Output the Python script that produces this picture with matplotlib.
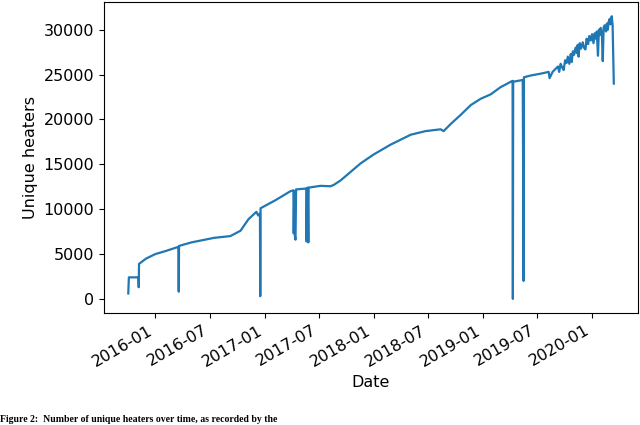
import pandas as pd
import matplotlib
matplotlib.use("Agg")
from matplotlib import pyplot as plt
import matplotlib.dates as mdates

plt.rcParams["font.size"] = 11.5

# Puntos (fecha, heaters unicos)
fechas = [
    "2015-10-02", "2015-10-04", "2015-11-05", "2015-11-06", "2015-11-07",
    "2015-12-01", "2016-01-01", "2016-02-01", "2016-03-18", "2016-03-19",
    "2016-03-20", "2016-05-01", "2016-05-31", "2016-07-15", "2016-09-08",
    "2016-10-12", "2016-11-08", "2016-12-04", "2016-12-10", "2016-12-16",
    "2016-12-17", "2016-12-18", "2017-02-06", "2017-03-28", "2017-04-07",
    "2017-04-08", "2017-04-10", "2017-04-12", "2017-04-14", "2017-04-16",
    "2017-05-20", "2017-05-21", "2017-05-23", "2017-05-25", "2017-05-27",
    "2017-05-28", "2017-07-07", "2017-08-09", "2017-08-20", "2017-09-12",
    "2017-11-18", "2018-01-01", "2018-02-27", "2018-05-05", "2018-06-24",
    "2018-08-13", "2018-08-23", "2018-09-16", "2018-10-19", "2018-11-22",
    "2018-12-25", "2019-01-28", "2019-03-02", "2019-04-05", "2019-04-11",
    "2019-04-12", "2019-04-13", "2019-05-15", "2019-05-18", "2019-05-19",
    "2019-06-11", "2019-07-14", "2019-08-10", "2019-08-13", "2019-08-23",
    "2019-09-10", "2019-09-14", "2019-09-19", "2019-09-24", "2019-09-29",
    "2019-10-04", "2019-10-09", "2019-10-13", "2019-10-18", "2019-10-23",
    "2019-10-26", "2019-10-30", "2019-11-03", "2019-11-08", "2019-11-12",
    "2019-11-15", "2019-11-18", "2019-11-22", "2019-11-26", "2019-12-02",
    "2019-12-06", "2019-12-11", "2019-12-15", "2019-12-20", "2019-12-24",
    "2019-12-29", "2020-01-02", "2020-01-07", "2020-01-11", "2020-01-15",
    "2020-01-18", "2020-01-22", "2020-01-25", "2020-01-28", "2020-01-31",
    "2020-02-04", "2020-02-07", "2020-02-10", "2020-02-14", "2020-02-18",
    "2020-02-21", "2020-02-24", "2020-02-27", "2020-03-01", "2020-03-04",
    "2020-03-08", "2020-03-11", "2020-03-15",
]
heaters = [
    600, 2400, 2400, 1300, 3900,
    4500, 5000, 5300, 5800, 800,
    5900, 6300, 6500, 6800, 7000,
    7600, 8900, 9700, 9300, 9500,
    300, 10100, 11000, 12000, 12100,
    7300, 12000, 7000, 6600, 12200,
    12300, 6400, 12300, 12400, 6300,
    12400, 12600, 12550, 12700, 13200,
    15100, 16100, 17200, 18300, 18700,
    18900, 18700, 19500, 20500, 21600,
    22300, 22800, 23600, 24200, 24300,
    0, 24200, 24400, 2000, 24700,
    24900, 25100, 25300, 24600, 25300,
    25900, 25300, 26200, 25800, 25500,
    26600, 26300, 27000, 26200, 27300,
    26400, 27600, 27200, 28000, 27400,
    28300, 27000, 28500, 27900, 28600,
    28000, 27800, 29000, 28400, 29300,
    28800, 29500, 28500, 29600, 29000,
    29800, 27100, 30000, 29400, 30200,
    29600, 26500, 30300, 30500, 29800,
    30700, 30000, 30900, 31200, 30600,
    31500, 30500, 24000,
]

df = pd.DataFrame({"date": pd.to_datetime(fechas), "heaters": heaters})

fig = plt.figure(figsize=(6.4, 4.25), dpi=100)
ax = fig.add_axes([0.1625, 0.2635, 0.8345, 0.7315])
ax.plot(df["date"], df["heaters"], color="#1f77b4", linewidth=1.6)

ax.xaxis.set_major_locator(mdates.MonthLocator(bymonth=[1, 7]))
ax.xaxis.set_major_formatter(mdates.DateFormatter("%Y-%m"))
for lbl in ax.get_xticklabels():
    lbl.set_rotation(30)
    lbl.set_ha("right")

ax.set_xlabel("Date")
ax.set_ylabel("Unique heaters")

# Pie de figura (en el original esta recortado por el borde inferior)
fig.text(0.0, 0.003, "Figure 2:  Number of unique heaters over time, as recorded by the",
         family="Liberation Serif", fontweight="bold", fontsize=7, va="bottom", ha="left")

fig.savefig("out.png", dpi=100)
